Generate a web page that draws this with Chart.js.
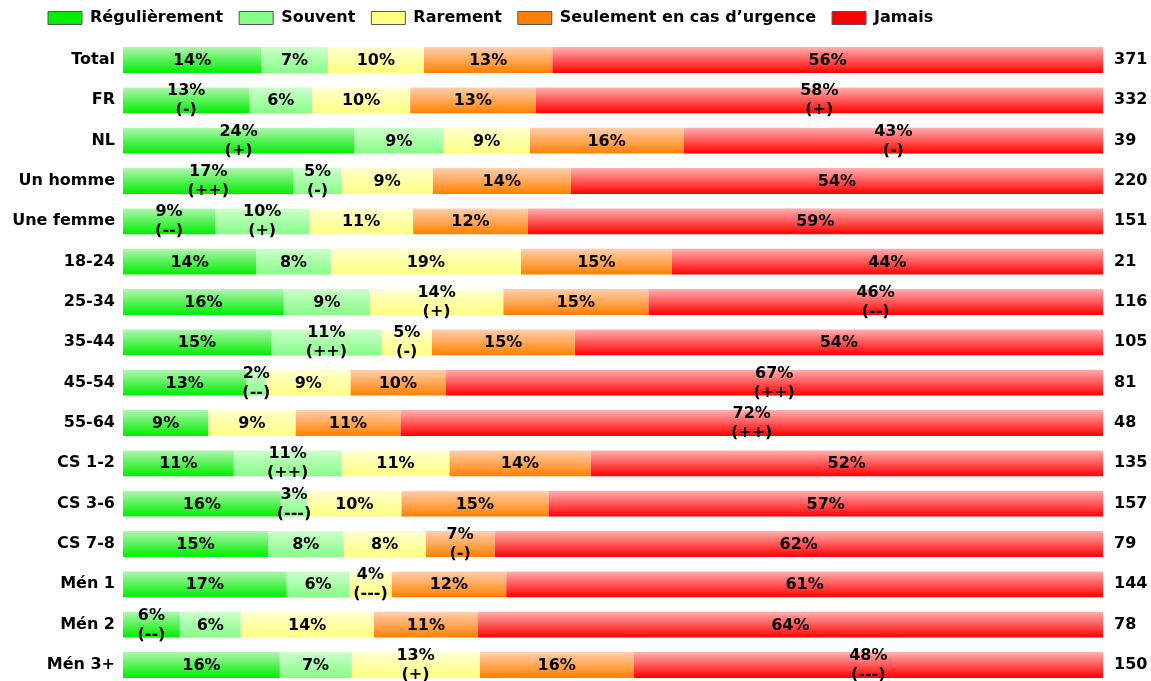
<!DOCTYPE html>
<html>
<head>
<meta charset="utf-8">
<script src="https://cdn.jsdelivr.net/npm/chart.js@4"></script>
<style>
  html, body { margin: 0; padding: 0; background: #fff; }
  #wrap { width: 1151px; height: 681px; }
</style>
</head>
<body>
<div id="wrap"><canvas id="chart"></canvas></div>
<script>
// categories + effectif
const groups = ['Total', 'FR', 'NL', 'Un homme', 'Une femme', '18-24', '25-34', '35-44', '45-54', '55-64',
  'CS 1-2', 'CS 3-6', 'CS 7-8', 'Mén 1', 'Mén 2', 'Mén 3+'];
const counts = [371, 332, 39, 220, 151, 21, 116, 105, 81, 48, 135, 157, 79, 144, 78, 150];

// % par modalité
const regulierement = [14.1, 12.9, 23.6, 17.4, 9.4, 13.6, 16.4, 15.1, 12.6, 8.7, 11.3, 16.1, 14.8, 16.7, 5.8, 16.0];
const souvent       = [6.8, 6.4, 9.1, 4.9, 9.6, 7.6, 8.8, 11.3, 2.0, 0, 11.0, 2.7, 7.7, 6.4, 6.2, 7.3];
const rarement      = [9.8, 10.0, 8.8, 9.3, 10.6, 19.4, 13.6, 5.1, 8.6, 8.9, 11.0, 9.6, 8.4, 4.3, 13.6, 13.1];
const urgence       = [13.1, 12.8, 15.7, 14.1, 11.7, 15.4, 14.8, 14.6, 9.7, 10.7, 14.4, 15.0, 7.0, 11.7, 10.6, 15.7];
const jamais        = [56.2, 57.9, 42.8, 54.3, 58.7, 44.0, 46.4, 53.9, 67.1, 71.7, 52.3, 56.6, 62.1, 60.9, 63.8, 47.9];

// significativité
const regSig = ['', '(-)', '(+)', '(++)', '(--)', '', '', '', '', '', '', '', '', '', '(--)', ''];
const souSig = ['', '', '', '(-)', '(+)', '', '', '(++)', '(--)', '', '(++)', '(---)', '', '', '', ''];
const rarSig = ['', '', '', '', '', '', '(+)', '(-)', '', '', '', '', '', '(---)', '', '(+)'];
const urgSig = ['', '', '', '', '', '', '', '', '', '', '', '', '(-)', '', '', ''];
const jamSig = ['', '(+)', '(-)', '', '', '', '(--)', '', '(++)', '(++)', '', '', '', '', '', '(---)'];

const FONT = '"DejaVu Sans", Verdana, sans-serif';
const FS = 16;
const BAR_H = 26;

// couleur pleine + haut éclairci (dégradé vertical)
function barFill(base, light) {
  return ctx => {
    const chart = ctx.chart;
    const ys = chart.scales.y;
    if (!chart.chartArea || !ys || ctx.type !== 'data') return base;
    const yc = ys.getPixelForValue(ctx.dataIndex);
    const g = chart.ctx.createLinearGradient(0, yc - BAR_H / 2, 0, yc + BAR_H / 2);
    g.addColorStop(0, light);
    g.addColorStop(1, base);
    return g;
  };
}

function makeSet(label, data, sig, base, light) {
  return {
    label, data, sig, flat: base,
    backgroundColor: barFill(base, light),
    borderWidth: 0,
    barPercentage: 0.64,
    categoryPercentage: 1,
    clip: false
  };
}

// labels % au centre de chaque segment
const barLabels = {
  id: 'barLabels',
  afterDatasetsDraw(chart) {
    const c = chart.ctx;
    c.save();
    c.font = 'bold ' + FS + 'px ' + FONT;
    c.fillStyle = '#000';
    c.textAlign = 'center';
    c.textBaseline = 'middle';
    chart.data.datasets.forEach((ds, di) => {
      chart.getDatasetMeta(di).data.forEach((bar, i) => {
        const pct = Math.round(ds.data[i]);
        if (!pct) return;
        const x = (bar.x + bar.base) / 2;
        const sig = ds.sig[i];
        if (sig) {
          c.fillText(pct + '%', x, bar.y - 9);
          c.fillText(sig, x, bar.y + 10);
        } else {
          c.fillText(pct + '%', x, bar.y + 1);
        }
      });
    });
    c.restore();
  }
};

// légende décalée à gauche comme sur l'original
const legendShift = {
  id: 'legendShift',
  afterLayout(chart) {
    if (!chart.legend) return;
    chart.legend.left = 32;
    chart.legend.top = -6;
  }
};

const tickFont = { family: FONT, size: FS, weight: 'bold' };

function fixAxis(width) {
  return s => {
    s.width = width;
    s.paddingTop = 0;
    s.paddingBottom = 0;
  };
}

new Chart(document.getElementById('chart'), {
  type: 'bar',
  data: {
    labels: groups,
    datasets: [
      makeSet('Régulièrement', regulierement, regSig, '#00ee00', '#b0f6b0'),
      makeSet('Souvent', souvent, souSig, '#86fd86', '#ccffcc'),
      makeSet('Rarement', rarement, rarSig, '#ffff80', '#ffffd0'),
      makeSet('Seulement en cas d’urgence', urgence, urgSig, '#ff8000', '#ffcfae'),
      makeSet('Jamais', jamais, jamSig, '#ff0000', '#ffb0b0')
    ]
  },
  options: {
    indexAxis: 'y',
    responsive: true,
    maintainAspectRatio: false,
    animation: false,
    layout: { padding: { top: 18, bottom: 16, left: 0, right: 0 } },
    plugins: {
      tooltip: { enabled: false },
      legend: {
        align: 'start',
        labels: {
          color: '#000',
          font: tickFont,
          boxWidth: 34,
          boxHeight: 13,
          padding: 16,
          generateLabels: chart => chart.data.datasets.map((ds, i) => ({
            text: ds.label,
            fillStyle: ds.flat,
            strokeStyle: '#555',
            lineWidth: 1,
            hidden: false,
            datasetIndex: i
          }))
        }
      }
    },
    scales: {
      x: { stacked: true, min: 0, max: 100, display: false },
      y: {
        stacked: true,
        offset: false,
        grid: { display: false, drawTicks: false },
        border: { display: false },
        ticks: { color: '#000', padding: 8, font: tickFont },
        afterFit: fixAxis(123)
      },
      y2: {
        type: 'category',
        position: 'right',
        labels: counts.map(String),
        offset: false,
        grid: { display: false, drawTicks: false },
        border: { display: false },
        ticks: { color: '#000', padding: 11, font: tickFont },
        afterFit: fixAxis(48)
      }
    }
  },
  plugins: [barLabels, legendShift]
});
</script>
</body>
</html>
